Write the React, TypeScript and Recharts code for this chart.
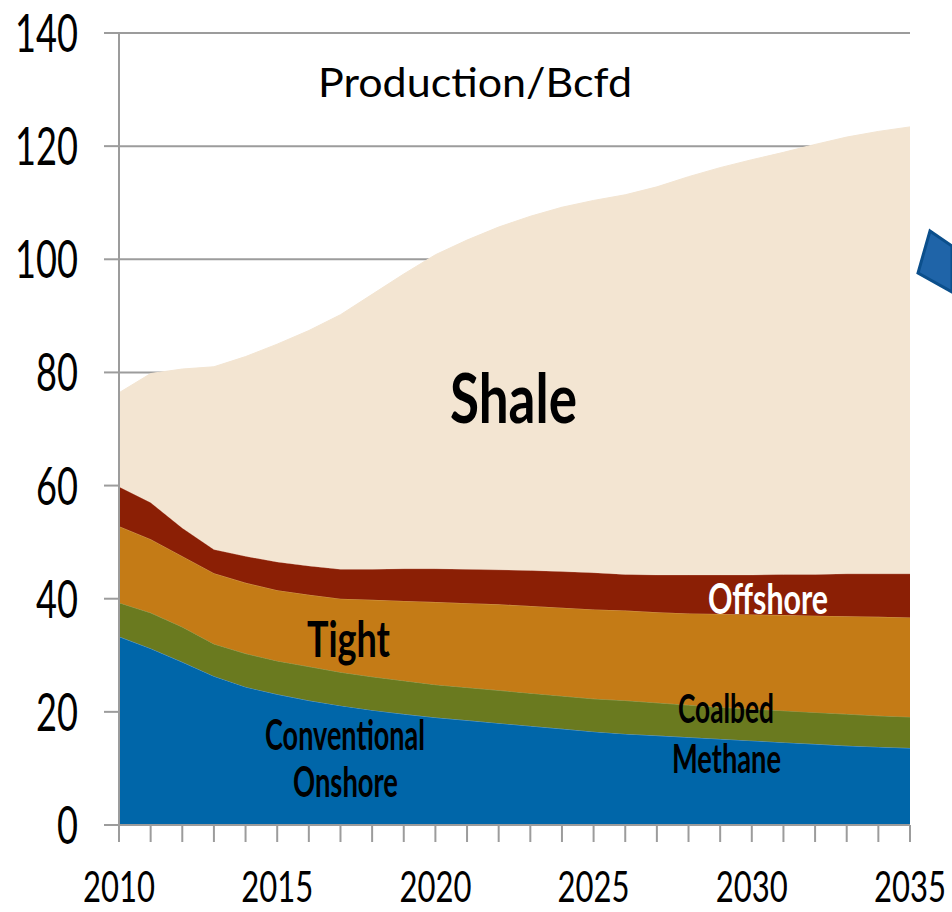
// US dry gas production by source, 2010-2035 (stacked area)

import { AreaChart, Area, XAxis, YAxis, CartesianGrid } from "recharts";

const FONT = "Lato, 'Liberation Sans', sans-serif";
const AXIS_GREY = "#9c9c9c";

const YEARS = [
  2010, 2011, 2012, 2013, 2014, 2015, 2016, 2017, 2018, 2019, 2020, 2021, 2022,
  2023, 2024, 2025, 2026, 2027, 2028, 2029, 2030, 2031, 2032, 2033, 2034, 2035,
];

// Bcfd per source
const CONVENTIONAL = [
  33.3, 31.2, 28.8, 26.3, 24.4, 23.1, 22.0, 21.1, 20.3, 19.6, 19.0, 18.5, 18.0,
  17.5, 17.0, 16.5, 16.1, 15.8, 15.5, 15.2, 14.9, 14.6, 14.3, 14.0, 13.8, 13.6,
];
const COALBED = [
  6.0, 6.3, 6.2, 5.7, 5.9, 5.9, 6.0, 5.9, 5.9, 5.9, 5.8, 5.8, 5.8,
  5.8, 5.8, 5.8, 5.9, 5.8, 5.7, 5.6, 5.6, 5.6, 5.6, 5.6, 5.5, 5.5,
];
const TIGHT = [
  13.5, 13.0, 12.5, 12.5, 12.5, 12.5, 12.7, 13.0, 13.6, 14.1, 14.6, 14.9, 15.2,
  15.4, 15.6, 15.8, 15.9, 16.0, 16.2, 16.5, 16.7, 16.9, 17.1, 17.3, 17.5, 17.6,
];
const OFFSHORE = [
  7.0, 6.5, 5.0, 4.2, 4.7, 5.0, 5.1, 5.2, 5.4, 5.7, 5.9, 6.0, 6.1,
  6.3, 6.4, 6.5, 6.4, 6.6, 6.8, 6.9, 7.0, 7.2, 7.3, 7.5, 7.6, 7.7,
];
const SHALE = [
  16.6, 22.8, 28.1, 32.3, 35.3, 38.5, 41.6, 45.0, 48.6, 52.1, 55.5, 58.2, 60.6,
  62.6, 64.4, 65.8, 67.1, 68.6, 70.4, 72.0, 73.4, 74.6, 76.0, 77.2, 78.2, 79.0,
];

const Y_TICKS = [0, 20, 40, 60, 80, 100, 120, 140];
const X_LABEL_YEARS = [2010, 2015, 2020, 2025, 2030, 2035];

const data = YEARS.map((year, i) => ({
  year,
  conventional: CONVENTIONAL[i],
  coalbed: COALBED[i],
  tight: TIGHT[i],
  offshore: OFFSHORE[i],
  shale: SHALE[i],
}));

// text squeezed to a given width, to mimic the narrow Calibri look
function FitText({ x, y, w, size, bold, fill = "#000", anchor = "start", children }: any) {
  return (
    <text
      x={x}
      y={y}
      fontSize={size}
      fontFamily={FONT}
      fontWeight={bold ? 700 : 400}
      fill={fill}
      textAnchor={anchor}
      textLength={w}
      lengthAdjust="spacingAndGlyphs"
    >
      {children}
    </text>
  );
}

// numbers: Lato digits are 0.58em wide, squeeze them with a transform
function Digits({ x, y, w, size, anchor, label }: any) {
  const sx = w / (label.length * 0.58 * size);
  return (
    <text
      transform={`translate(${x},${y}) scale(${sx.toFixed(3)},1)`}
      fontSize={size}
      fontFamily={FONT}
      fill="#000"
      textAnchor={anchor}
    >
      {label}
    </text>
  );
}

function YTick({ x, y, payload }: any) {
  const label = String(payload.value);
  return <Digits x={x - 26} y={y + 19} w={label.length * 21} size={52} anchor="end" label={label} />;
}

function XTick({ x, payload }: any) {
  if (!X_LABEL_YEARS.includes(payload.value)) return <g />;
  return <Digits x={x} y={902} w={72} size={42} anchor="middle" label={String(payload.value)} />;
}

export default function App() {
  return (
    <div style={{ position: "absolute", left: 0, top: 0, width: 952, height: 912, background: "#fff" }}>
      <AreaChart
        width={952}
        height={912}
        data={data}
        margin={{ top: 33, right: 42, left: 0, bottom: 0 }}
      >
        <CartesianGrid horizontal vertical={false} stroke={AXIS_GREY} strokeWidth={2} />
        <XAxis
          dataKey="year"
          type="number"
          domain={[2010, 2035]}
          ticks={YEARS}
          interval={0}
          height={87}
          tickSize={17}
          tickMargin={0}
          axisLine={{ stroke: AXIS_GREY, strokeWidth: 2 }}
          tickLine={{ stroke: AXIS_GREY, strokeWidth: 2 }}
          tick={<XTick />}
        />
        <YAxis
          type="number"
          domain={[0, 140]}
          ticks={Y_TICKS}
          width={119}
          tickSize={15}
          tickMargin={0}
          axisLine={{ stroke: AXIS_GREY, strokeWidth: 2 }}
          tickLine={{ stroke: AXIS_GREY, strokeWidth: 2 }}
          tick={<YTick />}
        />
        <Area type="linear" dataKey="conventional" stackId="gas" fill="#0066A9" fillOpacity={1} stroke="#5b9bd0" strokeWidth={1} isAnimationActive={false} />
        <Area type="linear" dataKey="coalbed" stackId="gas" fill="#6A7A1F" fillOpacity={1} stroke="#8f9c52" strokeWidth={1} isAnimationActive={false} />
        <Area type="linear" dataKey="tight" stackId="gas" fill="#C47B16" fillOpacity={1} stroke="#d49a4a" strokeWidth={1} isAnimationActive={false} />
        <Area type="linear" dataKey="offshore" stackId="gas" fill="#8B1F05" fillOpacity={1} stroke="#a8503a" strokeWidth={1} isAnimationActive={false} />
        <Area type="linear" dataKey="shale" stackId="gas" fill="#F3E5D2" fillOpacity={1} stroke="#F3E5D2" strokeWidth={1} isAnimationActive={false} />
      </AreaChart>

      <svg width={952} height={912} style={{ position: "absolute", left: 0, top: 0, pointerEvents: "none" }}>
        <FitText x={318} y={97} w={314} size={40}>Production/Bcfd</FitText>
        <FitText x={450} y={423} w={127} size={68} bold>Shale</FitText>
        <FitText x={307} y={657} w={83} size={50} bold>Tight</FitText>
        <FitText x={708} y={614} w={120} size={42} bold fill="#fff">Offshore</FitText>
        <FitText x={678} y={723} w={96} size={40} bold>Coalbed</FitText>
        <FitText x={672} y={773} w={109} size={40} bold>Methane</FitText>
        <FitText x={265} y={750} w={160} size={42} bold>Conventional</FitText>
        <FitText x={293} y={797} w={105} size={42} bold>Onshore</FitText>
        <polygon points="930,231 952,246 952,292 918,273" fill="#1F64A8" stroke="#0B4F8C" strokeWidth={3} />
      </svg>
    </div>
  );
}
